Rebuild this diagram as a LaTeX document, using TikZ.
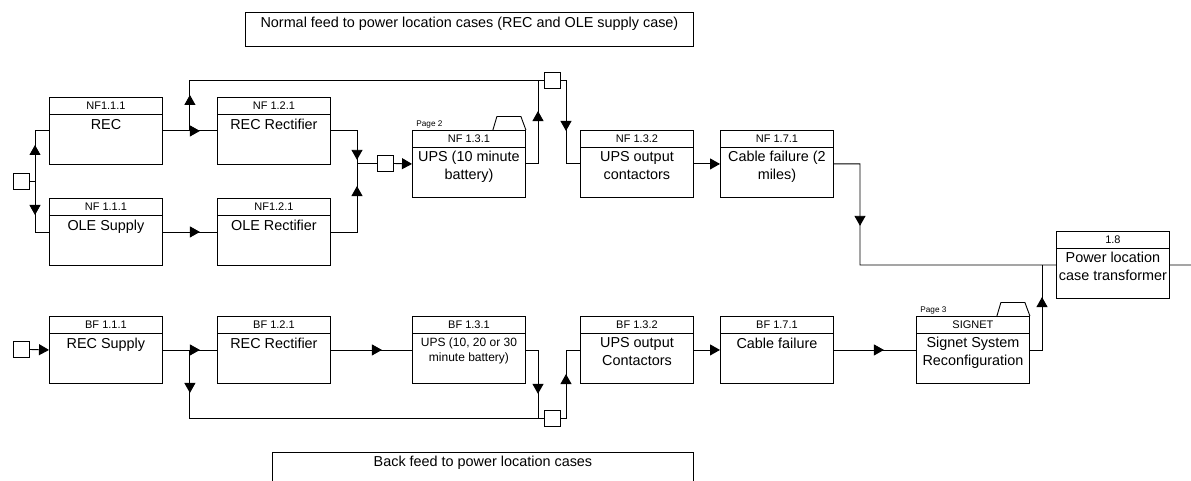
\documentclass[tikz,border=0pt]{standalone}
\usepackage{fontspec}
\setmainfont{Liberation Sans}
\usetikzlibrary{arrows.meta,decorations.markings,calc}

\newcommand\hdrfont{\fontsize{11}{13}\selectfont}
\newcommand\bodyfont{\fontsize{14.4}{17.5}\selectfont}
\newcommand\smallbodyfont{\fontsize{12}{15.5}\selectfont}
\newcommand\tinyfont{\fontsize{8.2}{10}\selectfont}

\tikzset{
  tri/.tip={Triangle[length=10pt,width=11pt]},
  ah/.style={postaction={decorate,decoration={markings,
      mark=at position #1 with {\arrow{tri}}}}},
  pbox/.style={draw, minimum width=113pt, minimum height=67pt, inner sep=0pt},
  hdr/.style={inner sep=0pt, font=\hdrfont},
  body/.style={anchor=north, inner sep=0pt, align=center, font=\bodyfont,
      execute at begin node={\rule{0pt}{11pt}}},
  smallbody/.style={anchor=north, inner sep=0pt, align=center, font=\smallbodyfont,
      execute at begin node={\rule{0pt}{9pt}}},
  sq/.style={draw, fill=white, minimum size=16pt, inner sep=0pt},
  tag/.style={inner sep=0pt, anchor=base west, font=\tinyfont},
  lbl/.style={inner sep=0pt, anchor=base, font=\bodyfont},
}

% process box: [body style]{name}{top-left}{header}{body}
\newcommand\procbox[5][body]{%
  \node[pbox, anchor=north west] (#2) at (#3) {};
  \draw ([yshift=-17pt]#2.north west) -- ([yshift=-17pt]#2.north east);
  \node[hdr] (#2-h) at ([yshift=-8.5pt]#2.north) {#4};
  \node[#1] (#2-b) at ([yshift=-21pt]#2.north) {#5};
}
% folder tab with page reference: {box}{tag name}{text}
\newcommand\pagetab[3]{%
  \draw (#1.north east) ++(-33,0) -- ++(4,-13.5) -- ++(24,0) -- (#1.north east);
  \node[tag] (#2) at ($(#1.north west)+(4,-3.5)$) {#3};
}

\begin{document}
\begin{tikzpicture}[x=1pt, y=-1pt, line width=0.9pt]
\useasboundingbox (0,0) rectangle (1191,481);

% section labels
\node[draw, minimum width=448pt, minimum height=34pt, inner sep=0pt, anchor=north west] (nfbox) at (245,12) {};
\node[lbl] (nftext) at ($(nfbox.north)+(0,16)$) {Normal feed to power location cases (REC and OLE supply case)};
\node[draw, minimum width=421pt, minimum height=40pt, inner sep=0pt, anchor=north west] (bfbox) at (272,452) {};
\node[lbl] (bftext) at ($(bfbox.north)+(0,14.7)$) {Back feed to power location cases};

% normal feed boxes
\procbox{REC}{49,97}{NF1.1.1}{REC}
\procbox{RECr}{217,97}{NF 1.2.1}{REC Rectifier}
\procbox{OLE}{49,198}{NF 1.1.1}{OLE Supply}
\procbox{OLEr}{217,198}{NF1.2.1}{OLE Rectifier}
\procbox{UPSn}{412,130}{NF 1.3.1}{UPS (10 minute\\battery)}
\pagetab{UPSn}{UPSn-p}{Page 2}
\procbox{NFc}{580,130}{NF 1.3.2}{UPS output\\contactors}
\procbox{NFk}{720,130}{NF 1.7.1}{Cable failure (2\\miles)}
\procbox{PWR}{1056,231}{1.8}{Power location\\case transformer}

% back feed boxes
\procbox{BFa}{49,316}{BF 1.1.1}{REC Supply}
\procbox{BFb}{217,316}{BF 1.2.1}{REC Rectifier}
\procbox[smallbody]{BFu}{412,316}{BF 1.3.1}{UPS (10, 20 or 30\\minute battery)}
\procbox{BFc}{580,316}{BF 1.3.2}{UPS output\\Contactors}
\procbox{BFk}{720,316}{BF 1.7.1}{Cable failure}
\procbox{SIG}{916,316}{SIGNET}{Signet System\\Reconfiguration}
\pagetab{SIG}{SIG-p}{Page 3}

% junction squares
\node[sq] (sqA) at (21,181) {};
\node[sq] (sqB) at (552.5,80) {};
\node[sq] (sqC) at (385,163.5) {};
\node[sq] (sqD) at (21,349.5) {};
\node[sq] (sqE) at (552.5,418) {};

% branch points
\coordinate (jA) at (35,181);
\coordinate (jB) at ($(REC.east)+(27,0)$);
\coordinate (jC) at (357,163.5);
\coordinate (jD) at (538,80);
\coordinate (jE) at (566,80);
\coordinate (jG) at (860,265);
\coordinate (jH) at (1042,265);
\coordinate (rightend) at (1191,265);
\coordinate (jF) at ($(BFa.east)+(27,0)$);
\coordinate (jI) at (538,418);
\coordinate (jJ) at (566,418);

% normal feed connectors
\draw (sqA) -- (jA);
\draw[ah=36pt] (jA) |- (REC.west);
\draw[ah=34pt] (jA) |- (OLE.west);
\draw[ah=37pt] (REC.east) -- (RECr.west);
\draw[ah=37pt] (OLE.east) -- (OLEr.west);
\draw[ah=36pt] (jB) -- (jB |- sqB) -- (sqB.west);
\draw[ah=55pt] (RECr.east) -| (jC);
\draw[ah=72pt] (OLEr.east) -| (jC);
\draw (jC) -- (sqC.west);
\draw[-tri] (sqC.east) -- (UPSn.west);
\draw[ah=65pt] (UPSn.east) -| (jD);
\draw[ah=56pt] (sqB.east) -- (jE) |- (NFc.west);
\draw[-tri] (NFc.east) -- (NFk.west);
\draw[ah=88pt] (NFk.east) -| (jG) -- (PWR.west);
\draw (PWR.east) -- (rightend);
\draw[ah=65pt] (SIG.east) -| (jH);

% back feed connectors
\draw[-tri] (sqD.east) -- (BFa.west);
\draw[ah=37pt] (BFa.east) -- (BFb.west);
\draw[ah=43pt] (jF) |- (sqE.west);
\draw[ah=51pt] (BFb.east) -- (BFu.west);
\draw[ah=56pt] (BFu.east) -| (jI);
\draw[ah=49pt] (sqE.east) -- (jJ) |- (BFc.west);
\draw[-tri] (BFc.east) -- (BFk.west);
\draw[ah=50pt] (BFk.east) -- (SIG.west);
\end{tikzpicture}
\end{document}
